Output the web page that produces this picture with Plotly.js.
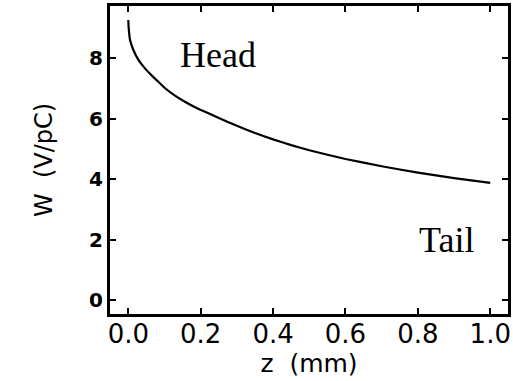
<!DOCTYPE html>
<html>
<head>
<meta charset="utf-8">
<script src="https://cdn.plot.ly/plotly-3.0.1.min.js"></script>
<style>html,body{margin:0;padding:0;background:#fff;}#chart{width:513px;height:381px;}</style>
</head>
<body>
<div id="chart"></div>
<script>
var zValues = [0, 0.001, 0.005, 0.014, 0.028, 0.046, 0.065, 0.08, 0.1, 0.13, 0.16, 0.19, 0.22, 0.25, 0.3, 0.35, 0.4, 0.45, 0.5, 0.6, 0.7, 0.8, 0.9, 1.0];
var wValues = [9.27, 9.0, 8.6, 8.28, 7.95, 7.67, 7.43, 7.26, 7.03, 6.76, 6.54, 6.35, 6.19, 6.03, 5.77, 5.53, 5.32, 5.13, 4.96, 4.67, 4.43, 4.22, 4.04, 3.88];
var xTickVals = [0, 0.2, 0.4, 0.6, 0.8, 1.0];
var xTickText = ["0.0", "0.2", "0.4", "0.6", "0.8", "1.0"];
var yTickVals = [0, 2, 4, 6, 8];
var labelTexts = ["Head", "Tail"];
var labelX = [0.248, 0.88];
var labelY = [8.11, 1.99];

var trace = {
  x: zValues, y: wValues, type: 'scatter', mode: 'lines',
  line: {color: '#000', width: 2.2, shape: 'spline', smoothing: 0.4},
  hoverinfo: 'skip', showlegend: false
};

var annotations = labelTexts.map(function(t, i){
  return {x: labelX[i], y: labelY[i], xref: 'x', yref: 'y', text: t, showarrow: false,
    xanchor: 'center', yanchor: 'middle',
    font: {family: 'Liberation Serif, Times New Roman, serif', size: 36, color: '#000'}};
});

var layout = {
  width: 513, height: 381,
  margin: {l: 110, r: 5, t: 6, b: 67},
  paper_bgcolor: '#fff', plot_bgcolor: '#fff',
  showlegend: false,
  xaxis: {
    range: [-0.0506, 1.049], tickvals: xTickVals, ticktext: xTickText,
    ticks: 'inside', ticklen: 6, tickwidth: 2, tickcolor: '#000',
    showline: true, linecolor: '#000', linewidth: 3, mirror: 'ticks',
    showgrid: false, zeroline: false, ticklabelstandoff: -5,
    tickfont: {family: 'DejaVu Sans, sans-serif', size: 26, color: '#000'},
    title: {text: 'z  (mm)', font: {family: 'DejaVu Sans, sans-serif', size: 25, color: '#000'}, standoff: 2}
  },
  yaxis: {
    range: [-0.46, 9.735], tickvals: yTickVals,
    ticks: 'inside', ticklen: 6, tickwidth: 2, tickcolor: '#000',
    showline: true, linecolor: '#000', linewidth: 3, mirror: 'ticks',
    showgrid: false, zeroline: false,
    tickfont: {family: 'DejaVu Sans, sans-serif', size: 20, color: '#000', weight: 'bold'},
    title: {text: 'W  (V/pC)', font: {family: 'DejaVu Sans, sans-serif', size: 24, color: '#000'}, standoff: 30}
  },
  annotations: annotations
};

Plotly.newPlot('chart', [trace], layout, {staticPlot: true, displayModeBar: false});
</script>
</body>
</html>
